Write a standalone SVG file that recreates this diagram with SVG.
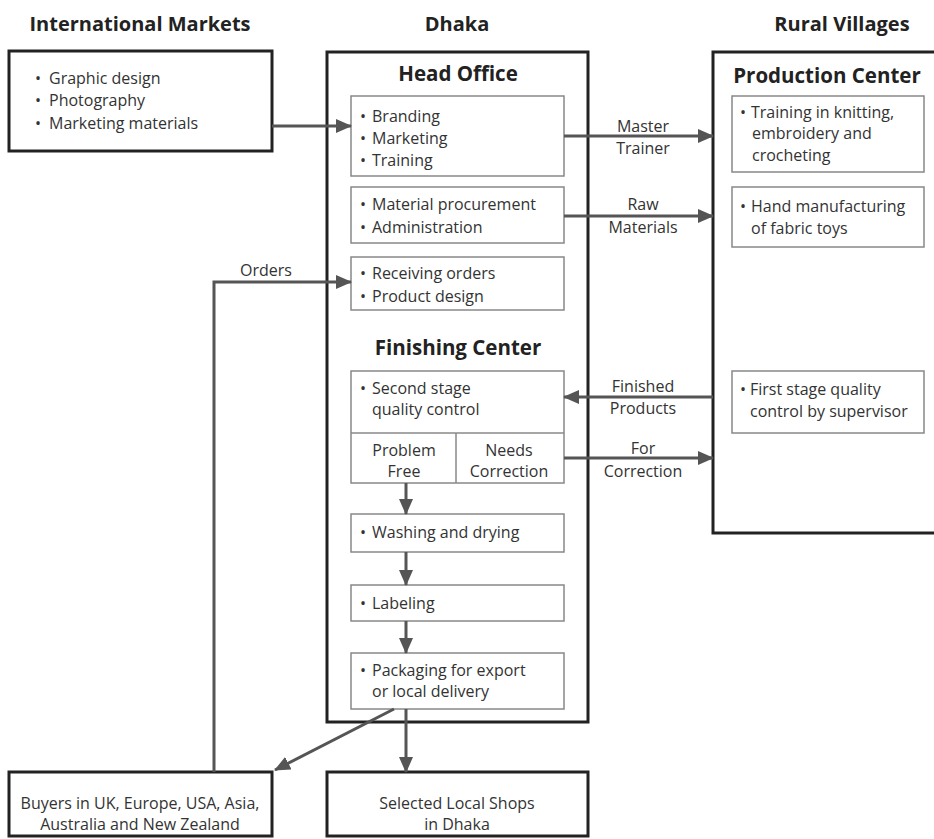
<svg xmlns="http://www.w3.org/2000/svg" width="934" height="839" viewBox="0 0 934 839">
<style>
text{font-family:"Open Sans","Liberation Sans",sans-serif;fill:#333;font-size:16px}
.t{font-weight:bold;font-size:20px;fill:#222;text-anchor:middle}
.h{font-weight:bold;font-size:20.5px;fill:#222;text-anchor:middle}
.c{text-anchor:middle}
.outer{fill:#fff;stroke:#222;stroke-width:3}
.inner{fill:#fff;stroke:#888;stroke-width:1.5}
.ln{stroke:#555;stroke-width:3;fill:none}
</style>
<defs>
<marker id="ah" viewBox="0 0 16 14" refX="15" refY="7" markerWidth="16" markerHeight="14" markerUnits="userSpaceOnUse" orient="auto">
<path d="M0,0 L16,7 L0,14 z" fill="#555"/>
</marker>
</defs>
<rect width="934" height="839" fill="#fff"/>
<text class="t" x="140" y="31">International Markets</text>
<text class="t" x="457" y="31">Dhaka</text>
<text class="t" x="842" y="31">Rural Villages</text>

<g id="intl">
<rect class="outer" x="9" y="51" width="263" height="100"/>
<text y="84"><tspan x="35">•</tspan><tspan x="49">Graphic design</tspan></text>
<text y="106"><tspan x="35">•</tspan><tspan x="49">Photography</tspan></text>
<text y="129"><tspan x="35">•</tspan><tspan x="49">Marketing materials</tspan></text>
</g>

<g id="dhaka">
<rect class="outer" x="327" y="52" width="261" height="670"/>
<text class="h" x="458" y="81">Head Office</text>
<text class="h" x="458" y="355">Finishing Center</text>
</g>
<g id="ho1">
<rect class="inner" x="351" y="96" width="213" height="80"/>
<text y="122"><tspan x="360">•</tspan><tspan x="372">Branding</tspan></text>
<text y="144"><tspan x="360">•</tspan><tspan x="372">Marketing</tspan></text>
<text y="166"><tspan x="360">•</tspan><tspan x="372">Training</tspan></text>
</g>
<g id="ho2">
<rect class="inner" x="351" y="187" width="213" height="56"/>
<text y="210"><tspan x="360">•</tspan><tspan x="372">Material procurement</tspan></text>
<text y="233"><tspan x="360">•</tspan><tspan x="372">Administration</tspan></text>
</g>
<g id="ho3">
<rect class="inner" x="351" y="257" width="213" height="53"/>
<text y="279"><tspan x="360">•</tspan><tspan x="372">Receiving orders</tspan></text>
<text y="302"><tspan x="360">•</tspan><tspan x="372">Product design</tspan></text>
</g>
<g id="qc2">
<rect class="inner" x="351" y="371" width="213" height="112"/>
<line x1="351" y1="433" x2="564" y2="433" stroke="#888" stroke-width="1.5"/>
<line x1="456" y1="433" x2="456" y2="483" stroke="#888" stroke-width="1.5"/>
<text y="394"><tspan x="360">•</tspan><tspan x="372">Second stage</tspan></text>
<text x="372" y="415">quality control</text>
<text class="c" x="404" y="456">Problem</text>
<text class="c" x="404" y="477">Free</text>
<text class="c" x="509" y="456">Needs</text>
<text class="c" x="509" y="477">Correction</text>
</g>
<g id="wash">
<rect class="inner" x="351" y="514" width="213" height="38"/>
<text y="538"><tspan x="360">•</tspan><tspan x="372">Washing and drying</tspan></text>
</g>
<g id="label">
<rect class="inner" x="351" y="585" width="213" height="36"/>
<text y="609"><tspan x="360">•</tspan><tspan x="372">Labeling</tspan></text>
</g>
<g id="pack">
<rect class="inner" x="351" y="653" width="213" height="56"/>
<text y="676"><tspan x="360">•</tspan><tspan x="372">Packaging for export</tspan></text>
<text x="372" y="697">or local delivery</text>
</g>

<g id="rural">
<rect class="outer" x="713" y="52" width="230" height="481"/>
<text class="h" x="827" y="83">Production Center</text>
</g>
<g id="pc1">
<rect class="inner" x="732" y="96" width="192" height="76"/>
<text y="118"><tspan x="740">•</tspan><tspan x="751">Training in knitting,</tspan></text>
<text x="752" y="139">embroidery and</text>
<text x="752" y="161">crocheting</text>
</g>
<g id="pc2">
<rect class="inner" x="732" y="187" width="192" height="60"/>
<text y="212"><tspan x="740">•</tspan><tspan x="751">Hand manufacturing</tspan></text>
<text x="751" y="234">of fabric toys</text>
</g>
<g id="pc3">
<rect class="inner" x="732" y="371" width="192" height="62"/>
<text y="395"><tspan x="740">•</tspan><tspan x="750">First stage quality</tspan></text>
<text x="750" y="417">control by supervisor</text>
</g>

<g id="buyers">
<rect class="outer" x="9" y="772" width="263" height="64"/>
<text class="c" x="140" y="809">Buyers in UK, Europe, USA, Asia,</text>
<text class="c" x="140" y="830">Australia and New Zealand</text>
</g>
<g id="shops">
<rect class="outer" x="327" y="772" width="261" height="64"/>
<text class="c" x="457" y="809">Selected Local Shops</text>
<text class="c" x="457" y="830">in Dhaka</text>
</g>

<g id="connectors">
<line class="ln" x1="272" y1="126" x2="351" y2="126" marker-end="url(#ah)"/>
<line class="ln" x1="564" y1="136" x2="713" y2="136" marker-end="url(#ah)"/>
<line class="ln" x1="564" y1="216" x2="713" y2="216" marker-end="url(#ah)"/>
<line class="ln" x1="713" y1="397" x2="564" y2="397" marker-end="url(#ah)"/>
<line class="ln" x1="564" y1="458" x2="713" y2="458" marker-end="url(#ah)"/>
<polyline class="ln" points="214,772 214,282 351,282" marker-end="url(#ah)"/>
<line class="ln" x1="406" y1="483" x2="406" y2="514" marker-end="url(#ah)"/>
<line class="ln" x1="406" y1="552" x2="406" y2="585" marker-end="url(#ah)"/>
<line class="ln" x1="406" y1="621" x2="406" y2="653" marker-end="url(#ah)"/>
<line class="ln" x1="406" y1="709" x2="406" y2="772" marker-end="url(#ah)"/>
<line class="ln" x1="394" y1="709" x2="275" y2="770" marker-end="url(#ah)"/>
<text class="c" x="643" y="132">Master</text>
<text class="c" x="643" y="154">Trainer</text>
<text class="c" x="643" y="210">Raw</text>
<text class="c" x="643" y="233">Materials</text>
<text class="c" x="643" y="392">Finished</text>
<text class="c" x="643" y="414">Products</text>
<text class="c" x="643" y="454">For</text>
<text class="c" x="643" y="477">Correction</text>
<text class="c" x="266" y="276">Orders</text>
</g>
</svg>
